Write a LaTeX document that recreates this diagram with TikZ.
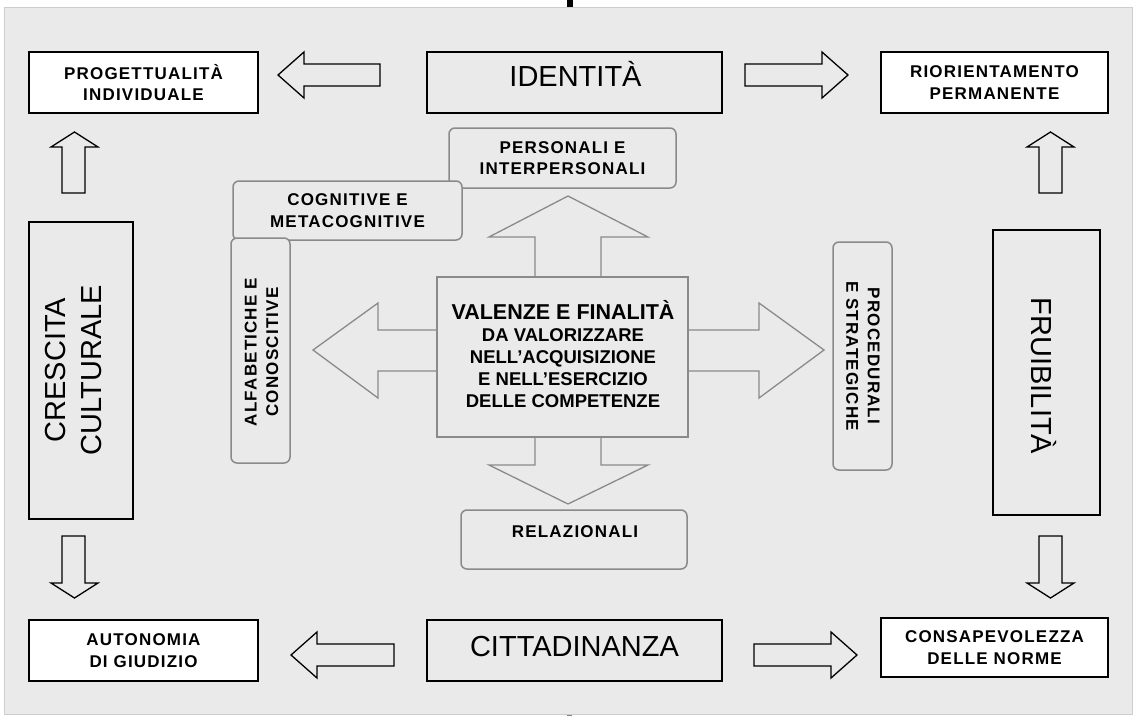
\documentclass[tikz,border=0pt]{standalone}
\usepackage{fontspec}
\setmainfont{Liberation Sans}
\newfontfamily\lsp[LetterSpace=7]{Liberation Sans}
\definecolor{bggray}{RGB}{234,234,234}
\definecolor{bgline}{RGB}{205,205,205}
\definecolor{rgray}{RGB}{138,138,138}
\tikzset{
  wbox/.style={draw=black, fill=white, line width=1.5pt, inner sep=0pt},
  gbox/.style={draw=black, fill=bggray, line width=1.5pt, inner sep=0pt},
  rbox/.style={draw=rgray, fill=bggray, line width=1.5pt, rounded corners=6pt, inner sep=0pt},
  cbox/.style={draw=rgray, fill=bggray, line width=1.5pt, inner sep=0pt},
  sarrow/.style={draw=black, line width=1.3pt, line join=miter},
  barrow/.style={draw=rgray, line width=1.3pt, line join=miter},
  boldlab/.style={font=\lsp\bfseries\fontsize{17}{21.5}\selectfont, align=center, inner sep=0pt},
  biglab/.style={font=\fontsize{29}{36}\selectfont, align=center, inner sep=0pt},
}
\begin{document}
\begin{tikzpicture}[x=1pt,y=-1pt]
\useasboundingbox (0,0) rectangle (1136,716);
\fill[white] (0,0) rectangle (1136,716);
\fill[black] (567,0) rectangle (573,7);
\fill[gray] (567,712) rectangle (572,716);
\filldraw[fill=bggray, draw=bgline, line width=0.8pt] (4,7) rectangle (1132,714);

% small block arrows
\draw[sarrow] (380,64) -- (304,64) -- (304,52) -- (278,75) -- (304,98) -- (304,86) -- (380,86) -- cycle;
\draw[sarrow] (745,64) -- (822,64) -- (822,52) -- (848,75) -- (822,98) -- (822,86) -- (745,86) -- cycle;
\draw[sarrow] (394,644) -- (317,644) -- (317,632) -- (291,655) -- (317,678) -- (317,666) -- (394,666) -- cycle;
\draw[sarrow] (754,644) -- (831,644) -- (831,632) -- (857,655) -- (831,678) -- (831,666) -- (754,666) -- cycle;
\draw[sarrow] (62,193) -- (62,147) -- (51,147) -- (74.5,132) -- (98,147) -- (85,147) -- (85,193) -- cycle;
\draw[sarrow] (1039,193) -- (1039,147) -- (1027,147) -- (1050.5,132) -- (1074,147) -- (1062,147) -- (1062,193) -- cycle;
\draw[sarrow] (62,536) -- (62,583) -- (51,583) -- (74.5,598) -- (98,583) -- (85,583) -- (85,536) -- cycle;
\draw[sarrow] (1039,536) -- (1039,583) -- (1027,583) -- (1050.5,598) -- (1074,583) -- (1062,583) -- (1062,536) -- cycle;

% big central block arrows
\draw[barrow] (535,277) -- (535,237) -- (489,237) -- (568,196) -- (648,237) -- (601,237) -- (601,277);
\draw[barrow] (535,437) -- (535,465) -- (489,465) -- (568,504) -- (648,465) -- (601,465) -- (601,437);
\draw[barrow] (437,330) -- (378,330) -- (378,303) -- (313,350) -- (378,398) -- (378,371) -- (437,371);
\draw[barrow] (688,330) -- (759,330) -- (759,303) -- (824,350) -- (759,398) -- (759,371) -- (688,371);

% corner boxes
\node[wbox, boldlab, minimum width=229pt, minimum height=61pt] (prog) at (143.5,82.5) {PROGETTUALITÀ\\INDIVIDUALE};
\node[wbox, boldlab, minimum width=227pt, minimum height=61pt] (rior) at (994.5,82.5) {RIORIENTAMENTO\\PERMANENTE};
\node[wbox, boldlab, minimum width=229pt, minimum height=61pt] (auto) at (143.5,650.5) {AUTONOMIA\\DI GIUDIZIO};
\node[wbox, boldlab, minimum width=227pt, minimum height=59pt] (cons) at (994.5,647.5) {CONSAPEVOLEZZA\\DELLE NORME};

% big labelled boxes
\node[gbox, minimum width=295pt, minimum height=61pt] (ident) at (574.5,82.5) {};
\node[biglab, anchor=base] (identT) at (575.5,86) {IDENTITÀ};
\node[gbox, minimum width=295pt, minimum height=61pt] (citt) at (574.5,650.5) {};
\node[biglab, anchor=base] (cittT) at (574.5,656) {CITTADINANZA};
\node[gbox, minimum width=104pt, minimum height=297pt] (cresc) at (81,370.5) {};
\node[biglab, rotate=90] (crescT) at (74,370) {CRESCITA\\CULTURALE};
\node[gbox, minimum width=107pt, minimum height=285pt] (fruib) at (1046.5,372.5) {};
\node[biglab, rotate=-90] (fruibT) at (1044,376) {FRUIBILITÀ};

% rounded competence boxes
\node[rbox, boldlab, minimum width=227pt, minimum height=60pt] (pers) at (562.5,158) {PERSONALI E\\INTERPERSONALI};
\node[rbox, boldlab, minimum width=229pt, minimum height=59pt] (cogn) at (347.5,210.5) {COGNITIVE E\\METACOGNITIVE};
\node[rbox, minimum width=59pt, minimum height=225pt] (alfa) at (260.5,350.5) {};
\node[boldlab, rotate=90] (alfaT) at (261.5,352) {ALFABETICHE E\\CONOSCITIVE};
\node[rbox, minimum width=59pt, minimum height=228pt] (proc) at (862.5,356) {};
\node[boldlab, rotate=-90] (procT) at (863,356) {PROCEDURALI\\E STRATEGICHE};
\node[rbox, minimum width=226pt, minimum height=59pt] (rela) at (574,539.5) {};
\node[boldlab, anchor=base] (relaT) at (575,537) {RELAZIONALI};

% central box
\node[cbox, minimum width=251pt, minimum height=160pt] (vc) at (562.5,357) {};
\node[align=center, inner sep=0pt, font=\bfseries\fontsize{18.5}{22}\selectfont] (vcT) at (563,354) {{\fontsize{21.5}{22}\selectfont VALENZE E FINALITÀ}\\DA VALORIZZARE\\NELL’ACQUISIZIONE\\E NELL’ESERCIZIO\\DELLE COMPETENZE};
\end{tikzpicture}
\end{document}
